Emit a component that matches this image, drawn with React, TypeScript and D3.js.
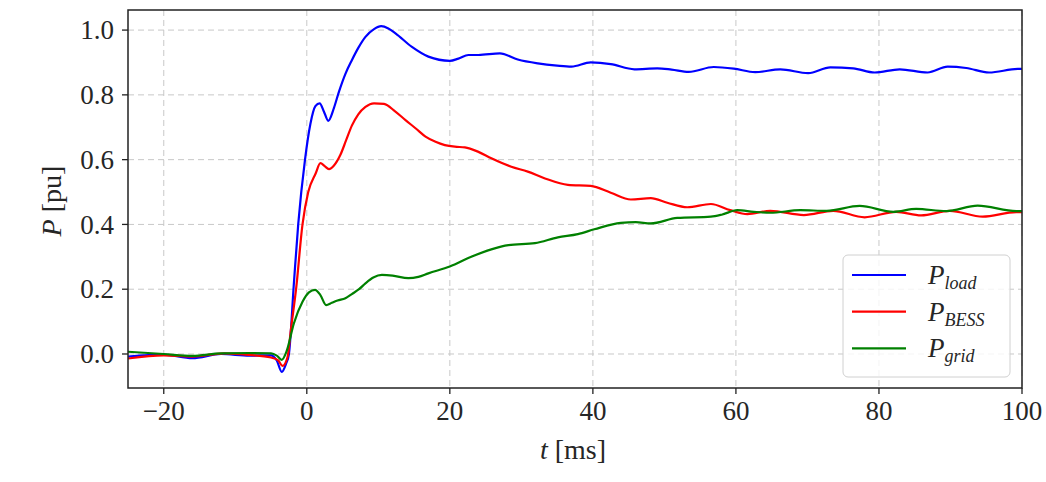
import React from "react";
import * as d3 from "d3";

// ---- data ----
const tLoad = [-25, -20, -16, -12, -8, -5, -4.2, -3.5, -2.9, -2.5, -1.8, -1.2, -0.25, 0.5, 1.2, 1.8, 2.4, 3.0, 3.8, 4.5, 5.4, 6.3, 7.2, 8.2, 9.4, 10.4, 11.4, 12.4, 14.7, 17, 20, 21.2, 22.6, 24, 27, 29.5, 32.3, 35, 37, 39.7, 42.5, 45.8, 49, 51, 53.4, 56.9, 59.7, 62.7, 66.2, 70.1, 73.2, 76.4, 79.4, 82.9, 86.8, 89.6, 92.2, 95.4, 99.4, 100];
const pLoad = [-0.008, -0.002, -0.013, 0.0, -0.005, -0.004, -0.02, -0.055, -0.03, 0.0, 0.22, 0.4, 0.6, 0.71, 0.765, 0.774, 0.748, 0.72, 0.76, 0.81, 0.865, 0.907, 0.945, 0.979, 1.003, 1.012, 1.005, 0.99, 0.948, 0.918, 0.905, 0.912, 0.923, 0.923, 0.928, 0.909, 0.897, 0.89, 0.887, 0.9, 0.895, 0.879, 0.882, 0.878, 0.871, 0.886, 0.881, 0.87, 0.879, 0.867, 0.885, 0.882, 0.869, 0.879, 0.869, 0.887, 0.883, 0.869, 0.88, 0.88];

const tBess = [-25, -20, -16, -11.5, -8, -5, -4, -3.4, -2.7, -2.2, -1.5, -0.6, 0.2, 1.25, 1.9, 2.5, 3.1, 3.8, 4.7, 5.5, 6.3, 7.2, 8.2, 9.4, 10.8, 12.3, 13.8, 15.2, 16.6, 18, 19.3, 20.7, 22.1, 24, 25.8, 28.6, 30.9, 33.3, 36.5, 39.7, 42.5, 45.3, 48.1, 50.4, 53.2, 56.5, 59.2, 61.6, 64.8, 69.5, 73.6, 78, 82.4, 85.9, 89.9, 94.5, 99.2, 100];
const pBess = [-0.014, -0.004, -0.008, 0.002, -0.003, -0.011, -0.02, -0.037, -0.01, 0.08, 0.2, 0.4, 0.5, 0.558, 0.589, 0.58, 0.571, 0.582, 0.615, 0.66, 0.705, 0.74, 0.763, 0.774, 0.772, 0.75, 0.722, 0.697, 0.671, 0.655, 0.645, 0.64, 0.638, 0.624, 0.604, 0.578, 0.563, 0.542, 0.522, 0.519, 0.498, 0.477, 0.481, 0.467, 0.453, 0.463, 0.444, 0.432, 0.442, 0.429, 0.442, 0.422, 0.439, 0.428, 0.442, 0.424, 0.438, 0.438];

const tGrid = [-25, -20, -16, -12, -8, -5, -4.2, -3.5, -2.8, -1.8, -0.6, 0.3, 1.15, 1.9, 2.7, 3.5, 4.3, 5.4, 6.3, 7.3, 8.2, 9.3, 10.5, 12, 14.2, 15.6, 17, 20, 23, 25.8, 28.2, 31.9, 35.1, 37.9, 40.2, 43.9, 46, 48.1, 51.8, 56.5, 58, 60.2, 62.5, 64.8, 69, 72.7, 77.3, 82, 85.2, 89.4, 93.8, 99.2, 100];
const pGrid = [0.007, 0.0, -0.006, 0.002, 0.003, 0.002, -0.005, -0.018, 0.01, 0.095, 0.161, 0.19, 0.198, 0.182, 0.151, 0.158, 0.165, 0.172, 0.185, 0.2, 0.218, 0.236, 0.244, 0.242, 0.234, 0.238, 0.249, 0.27, 0.3, 0.323, 0.336, 0.342, 0.36, 0.37, 0.385, 0.405, 0.407, 0.403, 0.42, 0.424, 0.43, 0.444, 0.439, 0.436, 0.444, 0.442, 0.457, 0.439, 0.448, 0.441, 0.458, 0.441, 0.441];

const xTicks = [-20, 0, 20, 40, 60, 80, 100];
const yTicks = [0.0, 0.2, 0.4, 0.6, 0.8, 1.0];

const series = [
  { name: "load", t: tLoad, p: pLoad, color: "#0000ff" },
  { name: "BESS", t: tBess, p: pBess, color: "#ff0000" },
  { name: "grid", t: tGrid, p: pGrid, color: "#008000" },
];

const W = 1046;
const H = 482;
const M = { left: 128, right: 1022, top: 10, bottom: 388 };
const FONT = "'Liberation Serif', 'DejaVu Serif', serif";
const TEXT = "#262626";

export default function App() {
  const x = d3.scaleLinear().domain([-25, 100]).range([M.left, M.right]);
  const y = d3.scaleLinear().domain([-0.105, 1.062]).range([M.bottom, M.top]);

  const line = (t: number[], p: number[]) =>
    d3
      .line<number>()
      .x((_, i) => x(t[i]))
      .y((d) => y(d))
      .curve(d3.curveMonotoneX)(p) || "";

  const fmtY = (v: number) => v.toFixed(1);
  const fmtX = (v: number) => (v < 0 ? "\u2212" + Math.abs(v) : String(v));

  const lg = { x: 843, y: 255, w: 167, h: 122 };

  return (
    <svg
      width={W}
      height={H}
      style={{ position: "absolute", left: 0, top: 0, background: "#fff" }}
      fontFamily={FONT}
    >
      <rect x={0} y={0} width={W} height={H} fill="#fff" />
      <defs>
        <clipPath id="plot">
          <rect x={M.left} y={M.top} width={M.right - M.left} height={M.bottom - M.top} />
        </clipPath>
      </defs>
      {/* grid */}
      <g stroke="#c8c8c8" strokeWidth={1} strokeDasharray="6,4">
        {xTicks.map((t) => (
          <line key={"gx" + t} x1={x(t)} x2={x(t)} y1={M.top} y2={M.bottom} />
        ))}
        {yTicks.map((v) => (
          <line key={"gy" + v} x1={M.left} x2={M.right} y1={y(v)} y2={y(v)} />
        ))}
      </g>
      {/* lines */}
      <g clipPath="url(#plot)" fill="none" strokeWidth={2.2} strokeLinejoin="round">
        {series.map((s) => (
          <path key={s.name} d={line(s.t, s.p)} stroke={s.color} />
        ))}
      </g>
      {/* frame */}
      <rect
        x={M.left}
        y={M.top}
        width={M.right - M.left}
        height={M.bottom - M.top}
        fill="none"
        stroke="#222"
        strokeWidth={1.5}
      />
      {/* ticks */}
      <g stroke="#222" strokeWidth={1.3}>
        {xTicks.map((t) => (
          <line key={"tx" + t} x1={x(t)} x2={x(t)} y1={M.bottom} y2={M.bottom + 6} />
        ))}
        {yTicks.map((v) => (
          <line key={"ty" + v} x1={M.left - 6} x2={M.left} y1={y(v)} y2={y(v)} />
        ))}
      </g>
      <g fill={TEXT} fontSize={27}>
        {xTicks.map((t) => (
          <text key={"lx" + t} x={x(t)} y={M.bottom + 32} textAnchor="middle">
            {fmtX(t)}
          </text>
        ))}
        {yTicks.map((v) => (
          <text key={"ly" + v} x={M.left - 14} y={y(v)} dy="0.34em" textAnchor="end">
            {fmtY(v)}
          </text>
        ))}
      </g>
      {/* axis labels */}
      <text x={573} y={459} textAnchor="middle" fontSize={28} fill={TEXT}>
        <tspan fontStyle="italic">t</tspan>
        <tspan> [ms]</tspan>
      </text>
      <text
        transform={`translate(61,201) rotate(-90)`}
        textAnchor="middle"
        fontSize={28}
        fill={TEXT}
      >
        <tspan fontStyle="italic">P</tspan>
        <tspan> [pu]</tspan>
      </text>
      {/* legend */}
      <rect
        x={lg.x}
        y={lg.y}
        width={lg.w}
        height={lg.h}
        rx={5}
        fill="#fff"
        fillOpacity={0.8}
        stroke="#d0d0d0"
        strokeWidth={1}
      />
      {series.map((s, i) => {
        const cy = lg.y + 20 + i * 36.7;
        return (
          <g key={"lg" + s.name}>
            <line x1={852} x2={906} y1={cy} y2={cy} stroke={s.color} strokeWidth={2.2} />
            <text x={928} y={cy + 9} fontSize={27} fill={TEXT} fontStyle="italic">
              P
              <tspan fontSize={18} dy={5}>
                {s.name}
              </tspan>
            </text>
          </g>
        );
      })}
    </svg>
  );
}
